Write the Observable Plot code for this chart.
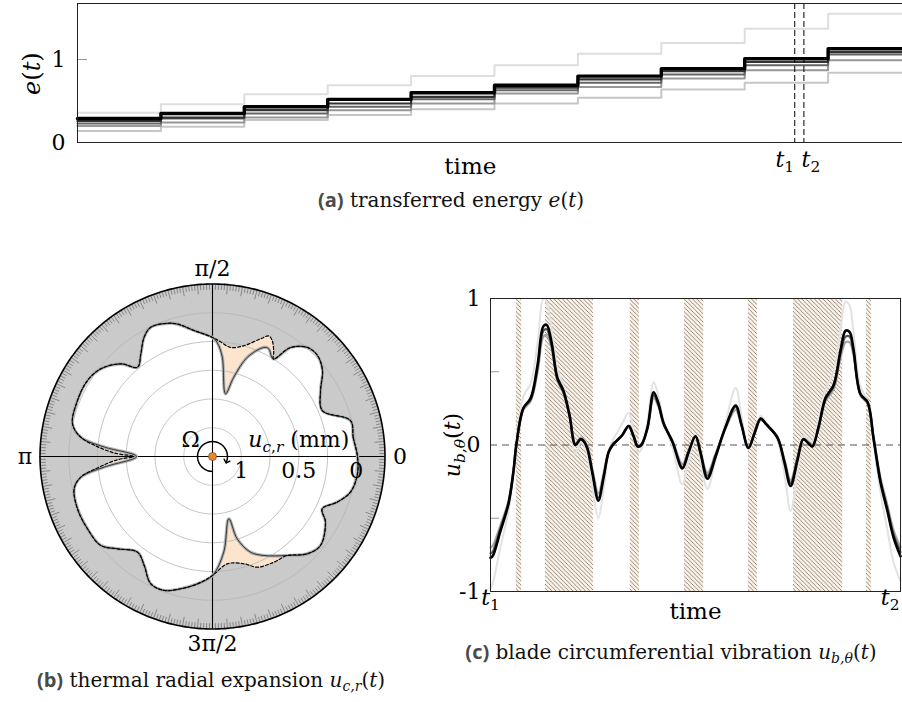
<!DOCTYPE html>
<html><head><meta charset="utf-8">
<script src="https://cdn.jsdelivr.net/npm/d3@7"></script>
<script src="https://cdn.jsdelivr.net/npm/@observablehq/plot@0.6"></script>
<style>
html,body{margin:0;padding:0;width:902px;height:702px;overflow:hidden;background:#fff;}
.panel{position:absolute;}
.cap{position:absolute;text-align:center;font-family:'DejaVu Serif',serif;font-size:20px;color:#111;white-space:nowrap;line-height:24px;}
.cap b{font-family:'Open Sans',sans-serif;font-weight:700;color:#4a4a4a;}
.cap sub{font-size:70%;line-height:0;vertical-align:-0.3em;}
</style></head><body>
<div id="pa" class="panel" style="left:0;top:0;width:915px;height:185px"></div>
<div id="pb" class="panel" style="left:0;top:255px;width:430px;height:405px"></div>
<div id="pc" class="panel" style="left:430px;top:280px;width:475px;height:360px"></div>
<div class="cap" style="left:201px;top:188px;width:500px"><b>(a)</b> transferred energy <i>e</i>(<i>t</i>)</div>
<div class="cap" style="left:-39px;top:668px;width:500px"><b>(b)</b> thermal radial expansion <i>u</i><sub><i>c,r</i></sub>(<i>t</i>)</div>
<div class="cap" style="left:421px;top:640px;width:500px"><b>(c)</b> blade circumferential vibration <i>u</i><sub><i>b,θ</i></sub>(<i>t</i>)</div>
<script>
// ---------- Panel (a) data: transferred energy per step ----------
const energySteps = [0,1,2,3,4,5,6,7,8,9];
const energyUpper = [0.36,0.46,0.58,0.69,0.80,0.93,1.07,1.20,1.37,1.55];
const energyLower = [0.14,0.19,0.27,0.33,0.40,0.47,0.54,0.64,0.72,0.84];
const energyGray  = [0.20,0.24,0.30,0.39,0.47,0.59,0.67,0.77,0.87,0.99];
const energyMid   = [0.23,0.29,0.35,0.43,0.52,0.63,0.72,0.82,0.93,1.06];
const energyDark  = [0.26,0.30,0.39,0.47,0.55,0.66,0.76,0.86,0.97,1.09];
const energyBlack = [0.29,0.35,0.43,0.52,0.60,0.69,0.80,0.89,1.01,1.13];
const energyTicks = [0, 1];
const tMarks = [8.6, 8.71];
const tMarkLabels = ["*t*_{1}", "*t*_{2}"];

// ---------- Panel (c) data: blade vibration ----------
const vibTime = [0,0.005,0.024,0.044,0.056,0.063,0.080,0.098,0.115,0.129,
 0.137,0.149,0.163,0.178,0.193,0.207,0.220,0.229,0.237,0.249,
 0.263,0.276,0.288,0.298,0.312,0.322,0.337,0.349,0.359,0.368,
 0.383,0.398,0.410,0.422,0.444,0.468,0.483,0.500,0.512,0.529,
 0.549,0.573,0.598,0.612,0.629,0.644,0.659,0.673,0.700,0.717,
 0.732,0.749,0.763,0.776,0.785,0.800,0.817,0.837,0.854,0.866,
 0.876,0.885,0.902,0.920,0.934,0.951,0.968,0.983,1.0];
const vibBlack = [-0.77,-0.76,-0.59,-0.40,-0.18,0.0,0.25,0.32,0.55,0.81,
 0.82,0.70,0.46,0.37,0.20,0.0,0.04,0.02,-0.03,-0.20,
 -0.38,-0.22,-0.05,0.0,0.04,0.07,0.13,0.06,-0.01,0.0,
 0.12,0.36,0.28,0.15,0.02,-0.16,-0.05,0.06,-0.05,-0.23,
 -0.08,0.12,0.27,0.14,-0.02,0.08,0.18,0.14,0.05,-0.12,
 -0.28,-0.10,0.04,0.01,-0.01,0.12,0.32,0.41,0.65,0.78,
 0.77,0.66,0.35,0.29,0.05,-0.25,-0.45,-0.63,-0.76];
const vibDark = [-0.74,-0.73,-0.57,-0.39,-0.18,0.0,0.25,0.31,0.53,0.78,
 0.79,0.68,0.45,0.36,0.20,0.0,0.04,0.02,-0.03,-0.19,
 -0.36,-0.21,-0.05,0.0,0.04,0.07,0.13,0.06,-0.01,0.0,
 0.12,0.34,0.27,0.15,0.02,-0.15,-0.05,0.06,-0.05,-0.21,
 -0.07,0.12,0.26,0.14,-0.02,0.08,0.18,0.14,0.05,-0.11,
 -0.26,-0.09,0.04,0.01,-0.01,0.12,0.31,0.40,0.63,0.74,
 0.74,0.64,0.35,0.29,0.05,-0.24,-0.43,-0.61,-0.73];
const vibGray = [-0.70,-0.69,-0.55,-0.38,-0.17,0.0,0.24,0.30,0.50,0.74,
 0.75,0.66,0.44,0.35,0.19,0.01,0.05,0.03,-0.02,-0.17,
 -0.33,-0.19,-0.04,0.01,0.04,0.07,0.12,0.06,0.0,0.01,
 0.11,0.32,0.26,0.14,0.03,-0.13,-0.04,0.06,-0.04,-0.19,
 -0.06,0.11,0.24,0.13,-0.01,0.08,0.17,0.14,0.05,-0.10,
 -0.24,-0.08,0.04,0.02,0.0,0.12,0.30,0.38,0.60,0.70,
 0.70,0.62,0.34,0.28,0.06,-0.22,-0.41,-0.58,-0.70];
const vibLight = [-0.98,-0.95,-0.70,-0.45,-0.20,0.0,0.33,0.42,0.70,1.0,
 0.98,0.80,0.52,0.40,0.18,-0.06,0.02,0.0,-0.08,-0.30,
 -0.50,-0.30,-0.05,0.03,0.10,0.15,0.22,0.10,-0.05,-0.03,
 0.16,0.43,0.33,0.17,-0.02,-0.27,-0.10,0.05,-0.10,-0.30,
 -0.10,0.15,0.39,0.20,-0.03,0.08,0.20,0.15,0.03,-0.20,
 -0.45,-0.18,0.06,0.04,0.02,0.18,0.38,0.50,0.80,0.98,
 0.95,0.78,0.40,0.30,0.02,-0.32,-0.58,-0.80,-0.93];
const bandStart = [0.063,0.134,0.341,0.473,0.629,0.739,0.917];
const bandEnd   = [0.076,0.251,0.363,0.520,0.651,0.859,0.929];
const vibTicks = [1, 0, -1];
const vibMinorTicks = [0.5, -0.5];

// ---------- Panel (b) data: casing radial profile (angle deg, u mm) ----------
const solidDeg = [0,7.7,14.6,22.7,31.4,38,43.9,49,54.4,58,62.6,64.8,70.7,75,78.3,84.4,87.6,90,98.3,104.8,
 108.7,115.5,119.8,124.9,130,134.7,141.9,148.7,157.5,166.9,171.7,175,180,185.6,188.9,193.1,201.2,210,218.5,224.2,
 231.9,237.9,244.1,250.2,256.5,263.3,270,276.7,284.7,286.7,291.7,297.4,307,314.2,320.5,329.8,334.5,339.9,345.5,352.5];
const solidU = [-0.011,0.015,0.010,0.215,0.149,0.036,-0.017,-0.007,0.085,0.250,0.192,0.202,0.337,0.537,0.693,0.380,0.259,0.215,0.143,0.059,
 0.027,0.004,0.054,0.161,0.236,0.116,0.015,-0.022,-0.021,0.000,0.093,0.305,0.589,0.304,0.091,0.015,-0.009,-0.006,0.008,0.098,
 0.193,0.132,0.020,0.012,0.067,0.135,0.215,0.413,0.690,0.502,0.354,0.280,0.172,0.069,0.033,0.113,0.193,0.095,0.011,-0.019];
const dashDeg = [0,7.7,14.6,22.7,31.4,38,43.9,49,54.4,58,
 59.6,62.8,65,67.8,74.3,80.6,86,
 90,98.3,104.8,108.7,115.5,119.8,124.9,130,134.7,141.9,148.7,157.5,166.9,171.7,
 175,178,180,182,185.6,
 188.9,193.1,201.2,210,218.5,224.2,231.9,237.9,244.1,250.2,256.5,263.3,
 270,277.8,286.3,292,300.1,
 307,314.2,320.5,329.8,334.5,339.9,345.5,352.5];
const dashU = [-0.011,0.015,0.010,0.215,0.149,0.036,-0.017,-0.007,0.085,0.250,
 0.198,0.115,0.093,0.145,0.250,0.289,0.250,
 0.215,0.143,0.059,0.027,0.004,0.054,0.161,0.236,0.116,0.015,-0.022,-0.021,0.000,0.093,
 0.24,0.40,0.56,0.42,0.25,
 0.091,0.015,-0.009,-0.006,0.008,0.098,0.193,0.132,0.020,0.012,0.067,0.135,
 0.215,0.308,0.278,0.212,0.187,
 0.172,0.069,0.033,0.113,0.193,0.095,0.011,-0.019];
const gridU = [0, 0.25, 0.5, 0.75, 1];
const rimU = -0.25;
const centerU = 1.25;
const radialLabels = ["1", "0.5", "0"];
const radialLabelU = [1, 0.5, 0];
const angleLabels = ["0", "π/2", "π", "3π/2"];
const angleLabelDeg = [0, 90, 180, 270];

// ---------- helpers ----------
const SERIF = "'DejaVu Serif', serif";
const NS = "http://www.w3.org/2000/svg";
function appendRich(parent, s) {
  let i = 0;
  const add = (txt, italic) => { const ts = document.createElementNS(NS, "tspan"); ts.textContent = txt; if (italic) ts.setAttribute("font-style", "italic"); parent.appendChild(ts); };
  while (i < s.length) {
    if (s[i] === "*") { const j = s.indexOf("*", i + 1); add(s.slice(i + 1, j), true); i = j + 1; }
    else if (s.startsWith("_{", i)) {
      const j = s.indexOf("}", i);
      const ts = document.createElementNS(NS, "tspan");
      ts.setAttribute("font-size", "70%");
      ts.setAttribute("baseline-shift", "-0.35em");
      appendRich(ts, s.slice(i + 2, j));
      parent.appendChild(ts);
      i = j + 1;
    } else {
      let j = i; while (j < s.length && s[j] !== "*" && !s.startsWith("_{", j)) j++;
      add(s.slice(i, j), false); i = j;
    }
  }
}
function richify(svg) {
  svg.querySelectorAll("text").forEach(t => {
    const s = t.textContent;
    if (!/\*|_\{/.test(s)) return;
    while (t.firstChild) t.removeChild(t.firstChild);
    appendRich(t, s);
  });
}
const styleOf = (fs) => ({fontFamily: SERIF, fontSize: fs, background: "transparent", overflow: "visible", maxWidth: "none"});

// ---------- Panel (a) ----------
const energySeries = [
  {vals: energyUpper, stroke: "#dedede", w: 2},
  {vals: energyLower, stroke: "#c6c6c6", w: 2},
  {vals: energyGray, stroke: "#979797", w: 2},
  {vals: energyMid, stroke: "#666", w: 2},
  {vals: energyDark, stroke: "#333", w: 2.2},
  {vals: energyBlack, stroke: "#000", w: 3.4}
];
const stepPts = (vals) => energySteps.map((s, i) => ({x: s, y: vals[i]})).concat([{x: energySteps.length, y: vals[vals.length - 1]}]);
const plotA = Plot.plot({
  width: 915, height: 185, marginLeft: 77, marginRight: 4, marginTop: 3, marginBottom: 43,
  x: {domain: [0, energySteps.length], axis: null},
  y: {domain: [0, 1.675], axis: null},
  style: styleOf("22px"),
  marks: [
    ...energySeries.map(s => Plot.line(stepPts(s.vals), {x: "x", y: "y", curve: "step-after", stroke: s.stroke, strokeWidth: s.w})),
    Plot.ruleX(tMarks, {stroke: "#000", strokeDasharray: "6,3", strokeWidth: 1}),
    Plot.ruleY([1], {x1: 0, x2: 0.12, stroke: "#999", strokeWidth: 1}),
    Plot.frame({stroke: "#222", strokeWidth: 1}),
    Plot.axisY(energyTicks, {tickSize: 0, tickPadding: 12, label: null, tickFormat: d => String(d)}),
    Plot.text([tMarkLabels[0]], {x: tMarks[0], text: d => d, frameAnchor: "bottom", dy: 24, dx: -10}),
    Plot.text([tMarkLabels[1]], {x: tMarks[1], text: d => d, frameAnchor: "bottom", dy: 24, dx: 7}),
    Plot.text(["time"], {x: 4.71, frameAnchor: "bottom", dy: 31, text: d => d, fontSize: 23}),
    Plot.text(["*e*(*t*)"], {y: 0.83, frameAnchor: "left", dx: -45, rotate: -90, textAnchor: "middle", text: d => d, fontSize: 24})
  ]
});
document.getElementById("pa").appendChild(plotA);
richify(plotA);

// ---------- Panel (b) ----------
const rho = u => centerU - u;
const toXY = (deg, u) => ({x: rho(u) * Math.cos(deg * Math.PI / 180), y: rho(u) * Math.sin(deg * Math.PI / 180)});
const circleDeg = d3.range(0, 360, 1);
const rimPts = circleDeg.map(a => toXY(a, rimU));
const gridPts = gridU.flatMap(u => d3.range(0, 361, 2).map(a => ({u, ...toXY(a, u)})));
const solidPts = solidDeg.map((a, i) => toXY(a, solidU[i]));
const dashPts = dashDeg.map((a, i) => toXY(a, dashU[i]));
const tickPts = circleDeg.map(a => {
  const len = a % 5 === 0 ? 0.085 : 0.05;
  const p = toXY(a, rimU), q = toXY(a, rimU + len);
  return {x1: p.x, y1: p.y, x2: q.x, y2: q.y};
});
const arrowPts = d3.range(268, -24, -4).map(a => toXY(a, centerU - 0.13));
const R = rho(rimU);
const plotB = Plot.plot({
  width: 430, height: 405, margin: 0,
  x: {domain: [-R, R], range: [39.5, 384.5], axis: null},
  y: {domain: [-R, R], range: [373.5, 28.5], axis: null},
  style: styleOf("22px"),
  marks: [
    Plot.line(rimPts, {x: "x", y: "y", curve: "linear-closed", fill: "#cacaca", stroke: "none"}),
    Plot.line(dashPts, {x: "x", y: "y", curve: "catmull-rom-closed", fill: "#fde4cc", stroke: "none"}),
    Plot.line(solidPts, {x: "x", y: "y", curve: "catmull-rom-closed", fill: "#fff", stroke: "none"}),
    Plot.line(gridPts, {x: "x", y: "y", z: "u", stroke: "#b4b4b4", strokeWidth: 0.8}),
    Plot.link(tickPts, {x1: "x1", y1: "y1", x2: "x2", y2: "y2", stroke: "#6a6a6a", strokeWidth: 0.7}),
    Plot.ruleY([0], {x1: -R, x2: R, stroke: "#000", strokeWidth: 1.1}),
    Plot.ruleX([0], {y1: -R, y2: R, stroke: "#000", strokeWidth: 1.1}),
    Plot.line(solidPts, {x: "x", y: "y", curve: "catmull-rom-closed", stroke: "#b0b0b0", strokeWidth: 3.2}),
    Plot.line(solidPts, {x: "x", y: "y", curve: "catmull-rom-closed", stroke: "#333", strokeWidth: 1}),
    Plot.line(dashPts, {x: "x", y: "y", curve: "catmull-rom-closed", stroke: "#000", strokeWidth: 1.2, strokeDasharray: "3,2"}),
    Plot.line(rimPts, {x: "x", y: "y", curve: "linear-closed", stroke: "#000", strokeWidth: 1.6}),
    Plot.line(arrowPts, {x: "x", y: "y", stroke: "#000", strokeWidth: 1.5, markerEnd: "arrow", curve: "catmull-rom"}),
    Plot.dot([toXY(0, centerU)], {x: "x", y: "y", r: 4, fill: "#f0861f", stroke: "#444", strokeWidth: 0.6}),
    Plot.text(["Ω"], {x: 0, y: 0, dx: -22, dy: -17, text: d => d}),
    Plot.text(["*u*_{*c*,*r*} (mm)"], {x: rho(0.5), y: 0, dy: -17, text: d => d}),
    Plot.text(radialLabels, {x: radialLabelU.map(rho), y: 0, dy: 14, text: d => d}),
    Plot.text(angleLabels, {x: angleLabelDeg.map(a => (R + 0.13) * Math.cos(a * Math.PI / 180)), y: angleLabelDeg.map(a => (R + 0.13) * Math.sin(a * Math.PI / 180)), text: d => d})
  ]
});
document.getElementById("pb").appendChild(plotB);
richify(plotB);

// ---------- Panel (c) ----------
const bands = bandStart.map((a, i) => ({a, b: bandEnd[i]}));
const vibSeries = [
  {vals: vibLight, stroke: "#e2e2e2", w: 2},
  {vals: vibGray, stroke: "#a6a6a6", w: 2.2},
  {vals: vibDark, stroke: "#555", w: 2.2},
  {vals: vibBlack, stroke: "#000", w: 2.6}
];
const vibPts = vals => vibTime.map((t, i) => ({t, v: vals[i]}));
const plotC = Plot.plot({
  width: 475, height: 360, marginLeft: 60, marginRight: 5, marginTop: 18, marginBottom: 49,
  x: {domain: [0, 1], axis: null},
  y: {domain: [-1, 1], axis: null},
  style: styleOf("22px"),
  marks: [
    Plot.rect(bands, {x1: "a", x2: "b", fill: "url(#hatchC)"}),
    Plot.ruleY([0], {stroke: "#555", strokeDasharray: "7,5", strokeWidth: 1.2}),
    Plot.ruleY(vibMinorTicks, {x1: 0, x2: 0.022, stroke: "#999"}),
    ...vibSeries.map(s => Plot.line(vibPts(s.vals), {x: "t", y: "v", curve: "catmull-rom", stroke: s.stroke, strokeWidth: s.w})),
    Plot.frame({stroke: "#222", strokeWidth: 1}),
    Plot.axisY(vibTicks, {tickSize: 0, tickPadding: 10, label: null, tickFormat: d => d === -1 ? "-1" : String(d)}),
    Plot.text([tMarkLabels[0]], {x: 0, frameAnchor: "bottom", dy: 13, text: d => d}),
    Plot.text([tMarkLabels[1]], {x: 1, frameAnchor: "bottom", dy: 13, textAnchor: "end", dx: -1, text: d => d}),
    Plot.text(["time"], {x: 0.5, frameAnchor: "bottom", dy: 27, text: d => d, fontSize: 23}),
    Plot.text(["*u*_{*b*,*θ*}(*t*)"], {y: 0, frameAnchor: "left", dx: -38, rotate: -90, textAnchor: "middle", text: d => d})
  ]
});
plotC.insertAdjacentHTML("afterbegin",
  '<defs><pattern id="hatchC" patternUnits="userSpaceOnUse" width="4.2" height="4.2">' +
  '<rect width="4.2" height="4.2" fill="#fcf3e8"/>' +
  '<path d="M-1,-1L5.2,5.2M3.2,-1L5.2,1M-1,3.2L1,5.2" stroke="#6f655b" stroke-width="0.75"/></pattern></defs>');
document.getElementById("pc").appendChild(plotC);
richify(plotC);
</script>
</body></html>
